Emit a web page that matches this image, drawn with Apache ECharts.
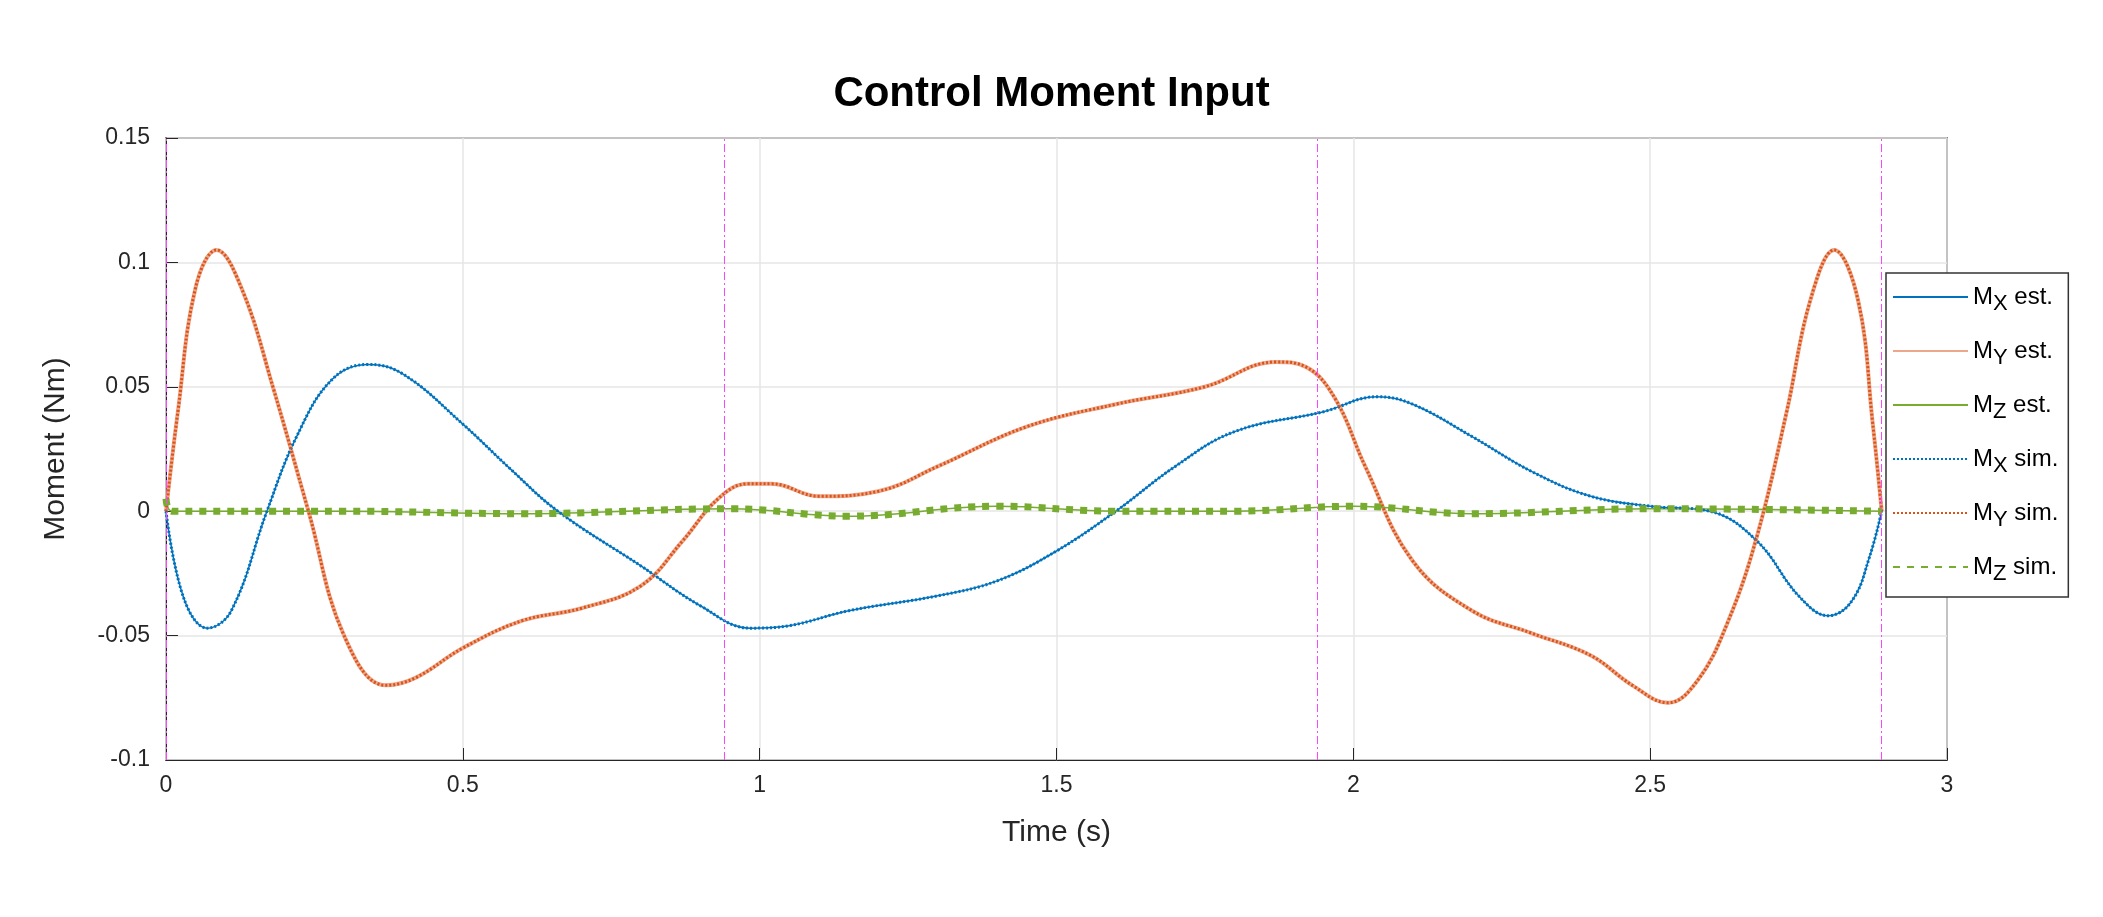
<!DOCTYPE html>
<html><head><meta charset="utf-8">
<script src="https://cdn.jsdelivr.net/npm/echarts@6/dist/echarts.min.js"></script>
<style>html,body{margin:0;padding:0;background:#fff}#c{width:2103px;height:917px}</style>
</head><body><div id="c"></div>
<script>
const mxData = [[0,0],[0.03,-0.035],[0.07,-0.047],[0.11,-0.04],[0.17,0],[0.22,0.03],[0.28,0.053],[0.34,0.059],[0.4,0.055],[0.5,0.035],[0.58,0.017],[0.66,0],[0.8,-0.022],[0.9,-0.038],[0.985,-0.047],[1.05,-0.046],[1.15,-0.04],[1.3,-0.034],[1.4,-0.028],[1.5,-0.016],[1.6,0],[1.7,0.018],[1.8,0.032],[1.95,0.04],[2.04,0.046],[2.1,0.043],[2.2,0.03],[2.3,0.016],[2.4,0.006],[2.5,0.002],[2.6,0.0],[2.68,-0.012],[2.75,-0.034],[2.8,-0.042],[2.84,-0.036],[2.87,-0.018],[2.89,0]];
const myData = [[0,0],[0.02,0.04],[0.05,0.09],[0.085,0.105],[0.13,0.088],[0.18,0.05],[0.24,0],[0.3,-0.05],[0.37,-0.07],[0.42,-0.067],[0.5,-0.055],[0.6,-0.044],[0.7,-0.039],[0.8,-0.03],[0.87,-0.012],[0.93,0.005],[0.98,0.011],[1.02,0.011],[1.1,0.006],[1.2,0.008],[1.3,0.018],[1.45,0.034],[1.6,0.043],[1.75,0.05],[1.87,0.06],[1.92,0.058],[1.97,0.045],[2.02,0.018],[2.1,-0.02],[2.2,-0.04],[2.3,-0.049],[2.4,-0.058],[2.47,-0.07],[2.53,-0.077],[2.58,-0.068],[2.63,-0.045],[2.68,-0.01],[2.73,0.04],[2.77,0.085],[2.81,0.105],[2.85,0.085],[2.875,0.035],[2.89,0]];
const mzData = [[0,0.005],[0.01,0],[0.3,0],[0.6,-0.001],[0.95,0.001],[1.15,-0.002],[1.4,0.002],[1.6,0],[1.8,0],[2.0,0.002],[2.2,-0.001],[2.5,0.001],[2.89,0]];
const phaseLines = [0, 0.945, 1.94, 2.89];
const seriesNames = ['X est.','Y est.','Z est.','X sim.','Y sim.','Z sim.'];
const colors = {x:'#0072BD', y:'#D95319', z:'#77AC30'};

const chart = echarts.init(document.getElementById('c'));
function mk(name, data, color, type, width, z) {
  return {name, type:'line', data, smooth:0.4, symbol:'none', showSymbol:false, z,
    lineStyle:{color, width, type}, itemStyle:{color}};
}
const series = [
  mk(seriesNames[0], mxData, colors.x, 'solid', 1.5, 2),
  mk(seriesNames[1], myData, '#EDA78A', 'solid', 4, 2),
  mk(seriesNames[2], mzData, colors.z, 'solid', 1.5, 2),
  mk(seriesNames[3], mxData, colors.x, [2,2], 3, 3),
  mk(seriesNames[4], myData, colors.y, [2,2], 3, 3),
  mk(seriesNames[5], mzData, colors.z, [7,7], 7, 3),
];
series[0].markLine = {silent:true, symbol:'none', label:{show:false},
  lineStyle:{color:'#FF44FF', type:[8,3,2,3], width:1},
  data: phaseLines.map(v=>({xAxis:v}))};
chart.setOption({
  animation:false,
  title:{text:'Control Moment Input', left:'center', top:68,
    textStyle:{fontFamily:'Liberation Sans', fontWeight:'bold', fontSize:42, color:'#000'}},
  grid:{left:166, right:156, top:138, bottom:157, show:true, borderColor:'#262626', borderWidth:1.5},
  legend:{orient:'vertical', left:1886, top:273, width:200, height:315, itemWidth:75, itemHeight:14, itemGap:24,
    padding:[12,10,12,6], backgroundColor:'#fff', borderColor:'#333', borderWidth:1.5,
    itemStyle:{opacity:0, borderWidth:0},
    data:seriesNames,
    formatter: n => '{m|M}{s|' + n[0] + '}{t| ' + n.slice(2) + '}',
    textStyle:{rich:{
      m:{fontFamily:'Liberation Sans', fontSize:24, color:'#000'},
      s:{fontFamily:'Liberation Sans', fontSize:22, color:'#000', verticalAlign:'bottom', padding:[14,0,0,0]},
      t:{fontFamily:'Liberation Sans', fontSize:24, color:'#000'}}}},
  xAxis:{type:'value', min:0, max:3, interval:0.5, name:'Time (s)', nameLocation:'middle', nameGap:58,
    nameTextStyle:{fontFamily:'Liberation Sans', fontSize:30, color:'#262626'},
    axisLine:{onZero:false, lineStyle:{color:'#262626'}}, axisTick:{inside:true, length:12, lineStyle:{color:'#262626'}},
    axisLabel:{fontFamily:'Liberation Sans', fontSize:23, color:'#262626', margin:14},
    splitLine:{show:true, lineStyle:{color:'#e6e6e6', width:1.5}}},
  yAxis:{type:'value', min:-0.1, max:0.15, interval:0.05, name:'Moment (Nm)', nameLocation:'middle', nameGap:95,
    nameTextStyle:{fontFamily:'Liberation Sans', fontSize:30, color:'#262626'},
    axisLine:{show:true, onZero:false, lineStyle:{color:'#262626'}}, axisTick:{inside:true, length:12, lineStyle:{color:'#262626'}},
    axisLabel:{fontFamily:'Liberation Sans', fontSize:23, color:'#262626', margin:16, formatter:v=>String(+v.toFixed(2))},
    splitLine:{show:true, lineStyle:{color:'#e6e6e6', width:1.5}}},
  series
});
</script></body></html>
